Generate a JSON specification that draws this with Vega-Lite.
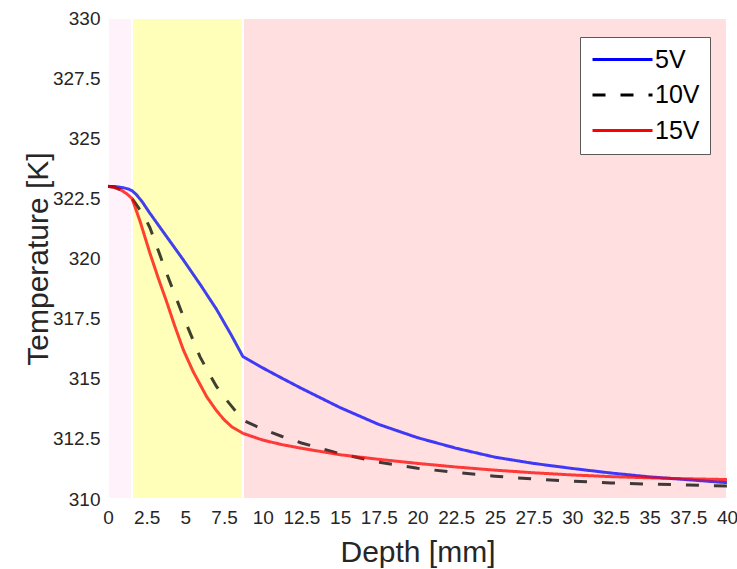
{
  "$schema": "https://vega.github.io/schema/vega-lite/v6.json",
  "width": 619,
  "height": 481,
  "autosize": {"type": "none"},
  "padding": {"left": 108, "top": 18, "right": 10, "bottom": 70},
  "background": "white",
  "config": {
    "view": {"stroke": "#262626", "strokeWidth": 1},
    "font": "Liberation Sans",
    "axis": {
      "zindex": 1,
      "labelFont": "Liberation Sans",
      "labelFontSize": 19,
      "labelColor": "#262626",
      "labelFlush": false,
      "labelOverlap": false,
      "titleFont": "Liberation Sans",
      "titleFontSize": 30,
      "titleFontWeight": "normal",
      "titleColor": "#262626",
      "domainColor": "#262626",
      "tickColor": "#262626",
      "tickSize": -6,
      "gridColor": "#262626",
      "gridOpacity": 0.15,
      "format": ".1~f"
    },
    "legend": {
      "labelFont": "Liberation Sans",
      "labelFontSize": 25,
      "labelColor": "#000000"
    }
  },
  "datasets": {
    "regions": [
      {"r": "A", "x0": 0, "x1": 1.55},
      {"r": "B", "x0": 1.55, "x1": 8.72},
      {"r": "C", "x0": 8.72, "x1": 40}
    ],
    "curves": [
      {"s": "5V", "x": 0, "t": 323.0},
      {"s": "5V", "x": 0.5, "t": 322.99},
      {"s": "5V", "x": 1.0, "t": 322.94},
      {"s": "5V", "x": 1.3, "t": 322.89},
      {"s": "5V", "x": 1.55, "t": 322.82},
      {"s": "5V", "x": 1.8, "t": 322.68},
      {"s": "5V", "x": 2.2, "t": 322.37},
      {"s": "5V", "x": 2.71, "t": 321.88},
      {"s": "5V", "x": 3.5, "t": 321.17},
      {"s": "5V", "x": 4.87, "t": 319.94},
      {"s": "5V", "x": 6.0, "t": 318.88},
      {"s": "5V", "x": 7.02, "t": 317.88},
      {"s": "5V", "x": 8.0, "t": 316.78},
      {"s": "5V", "x": 8.72, "t": 315.92},
      {"s": "5V", "x": 10, "t": 315.45},
      {"s": "5V", "x": 11.25, "t": 315.02},
      {"s": "5V", "x": 12.5, "t": 314.6},
      {"s": "5V", "x": 15, "t": 313.8},
      {"s": "5V", "x": 17.5, "t": 313.1},
      {"s": "5V", "x": 20, "t": 312.55},
      {"s": "5V", "x": 22.5, "t": 312.11},
      {"s": "5V", "x": 25, "t": 311.74},
      {"s": "5V", "x": 27.5, "t": 311.48},
      {"s": "5V", "x": 30, "t": 311.27},
      {"s": "5V", "x": 32.5, "t": 311.08},
      {"s": "5V", "x": 35, "t": 310.92},
      {"s": "5V", "x": 37.5, "t": 310.8},
      {"s": "5V", "x": 40, "t": 310.68},
      {"s": "10V", "x": 0, "t": 323.0},
      {"s": "10V", "x": 0.4, "t": 322.96},
      {"s": "10V", "x": 0.8, "t": 322.86},
      {"s": "10V", "x": 1.2, "t": 322.7},
      {"s": "10V", "x": 1.55, "t": 322.5},
      {"s": "10V", "x": 2.0, "t": 322.08},
      {"s": "10V", "x": 2.4, "t": 321.68},
      {"s": "10V", "x": 2.71, "t": 321.28},
      {"s": "10V", "x": 3.25, "t": 320.33},
      {"s": "10V", "x": 3.79, "t": 319.38},
      {"s": "10V", "x": 4.87, "t": 317.58},
      {"s": "10V", "x": 5.94, "t": 315.92},
      {"s": "10V", "x": 6.5, "t": 315.25},
      {"s": "10V", "x": 7.02, "t": 314.67},
      {"s": "10V", "x": 7.55, "t": 314.2},
      {"s": "10V", "x": 8.1, "t": 313.77},
      {"s": "10V", "x": 8.72, "t": 313.28},
      {"s": "10V", "x": 10, "t": 312.9},
      {"s": "10V", "x": 11.25, "t": 312.6},
      {"s": "10V", "x": 12.5, "t": 312.33},
      {"s": "10V", "x": 15, "t": 311.88},
      {"s": "10V", "x": 17.5, "t": 311.53},
      {"s": "10V", "x": 20, "t": 311.28},
      {"s": "10V", "x": 22.5, "t": 311.1},
      {"s": "10V", "x": 25, "t": 310.95},
      {"s": "10V", "x": 27.5, "t": 310.83},
      {"s": "10V", "x": 30, "t": 310.74},
      {"s": "10V", "x": 32.5, "t": 310.67},
      {"s": "10V", "x": 35, "t": 310.62},
      {"s": "10V", "x": 37.5, "t": 310.58},
      {"s": "10V", "x": 40, "t": 310.54},
      {"s": "15V", "x": 0, "t": 323.0},
      {"s": "15V", "x": 0.4, "t": 322.96},
      {"s": "15V", "x": 0.8, "t": 322.86},
      {"s": "15V", "x": 1.2, "t": 322.7},
      {"s": "15V", "x": 1.55, "t": 322.5},
      {"s": "15V", "x": 2.07, "t": 321.55},
      {"s": "15V", "x": 2.71, "t": 320.22},
      {"s": "15V", "x": 3.25, "t": 319.18},
      {"s": "15V", "x": 3.79, "t": 318.2},
      {"s": "15V", "x": 4.3, "t": 317.22},
      {"s": "15V", "x": 4.87, "t": 316.2},
      {"s": "15V", "x": 5.5, "t": 315.3},
      {"s": "15V", "x": 6.38, "t": 314.25},
      {"s": "15V", "x": 7.0, "t": 313.68},
      {"s": "15V", "x": 7.5, "t": 313.3},
      {"s": "15V", "x": 8.0, "t": 313.0},
      {"s": "15V", "x": 8.72, "t": 312.73},
      {"s": "15V", "x": 10, "t": 312.45},
      {"s": "15V", "x": 11.25, "t": 312.26},
      {"s": "15V", "x": 12.5, "t": 312.11},
      {"s": "15V", "x": 15, "t": 311.84},
      {"s": "15V", "x": 17.5, "t": 311.65},
      {"s": "15V", "x": 20, "t": 311.48},
      {"s": "15V", "x": 22.5, "t": 311.33},
      {"s": "15V", "x": 25, "t": 311.2},
      {"s": "15V", "x": 27.5, "t": 311.09},
      {"s": "15V", "x": 30, "t": 311.0},
      {"s": "15V", "x": 32.5, "t": 310.93},
      {"s": "15V", "x": 35, "t": 310.88},
      {"s": "15V", "x": 37.5, "t": 310.84},
      {"s": "15V", "x": 40, "t": 310.81}
    ]
  },
  "resolve": {"axis": {"x": "independent", "y": "independent"}},
  "layer": [
    {
      "data": {"name": "regions"},
      "mark": {"type": "rect", "stroke": "white", "strokeWidth": 2},
      "encoding": {
        "x": {"field": "x0", "type": "quantitative", "scale": {"domain": [0, 40], "nice": false},
          "axis": {"title": "Depth [mm]", "values": [0, 2.5, 5, 7.5, 10, 12.5, 15, 17.5, 20, 22.5, 25, 27.5, 30, 32.5, 35, 37.5, 40], "labelPadding": 15, "titlePadding": 10}},
        "x2": {"field": "x1"},
        "fill": {"field": "r", "type": "nominal", "scale": {"domain": ["A", "B", "C"], "range": ["#fff2fa", "#ffffb9", "#ffdfe0"]}, "legend": null}
      }
    },
    {
      "data": {"name": "curves"},
      "mark": {"type": "line", "strokeWidth": 3, "opacity": 0.75, "interpolate": "linear", "strokeJoin": "round", "clip": true},
      "encoding": {
        "x": {"field": "x", "type": "quantitative", "scale": {"domain": [0, 40], "nice": false},
          "axis": {"orient": "top", "labels": false, "title": null, "grid": false, "values": [0, 2.5, 5, 7.5, 10, 12.5, 15, 17.5, 20, 22.5, 25, 27.5, 30, 32.5, 35, 37.5, 40]}},
        "y": {"field": "t", "type": "quantitative", "scale": {"domain": [310, 330], "nice": false, "zero": false},
          "axis": {"title": "Temperature [K]", "values": [310, 312.5, 315, 317.5, 320, 322.5, 325, 327.5, 330], "labelPadding": 14, "titlePadding": -1}},
        "color": {"field": "s", "type": "nominal", "scale": {"domain": ["5V", "10V", "15V"], "range": ["#0000ff", "#000000", "#ff0000"]},
          "legend": {"title": null, "orient": "none", "legendX": 472, "legendY": 19, "padding": 10, "rowPadding": 9.5,
            "symbolType": "M-1,0H5", "symbolSize": 400, "symbolStrokeWidth": 3, "symbolOpacity": 1, "labelOffset": 40,
            "strokeColor": "#5a5a5a", "fillColor": "white"}},
        "strokeDash": {"field": "s", "type": "nominal", "scale": {"domain": ["5V", "10V", "15V"], "range": [[1, 0], [13, 15], [1, 0]]}, "legend": null}
      }
    },
    {
      "data": {"name": "curves"},
      "mark": {"type": "point", "opacity": 0},
      "encoding": {
        "x": {"field": "x", "type": "quantitative", "scale": {"domain": [0, 40], "nice": false},
          "axis": {"orient": "bottom", "labels": false, "title": null, "grid": true, "ticks": false, "domain": false, "values": [0, 2.5, 5, 7.5, 10, 12.5, 15, 17.5, 20, 22.5, 25, 27.5, 30, 32.5, 35, 37.5, 40]}},
        "y": {"field": "t", "type": "quantitative", "scale": {"domain": [310, 330], "nice": false, "zero": false},
          "axis": {"orient": "right", "labels": false, "title": null, "grid": false, "values": [310, 312.5, 315, 317.5, 320, 322.5, 325, 327.5, 330]}}
      }
    }
  ]
}
